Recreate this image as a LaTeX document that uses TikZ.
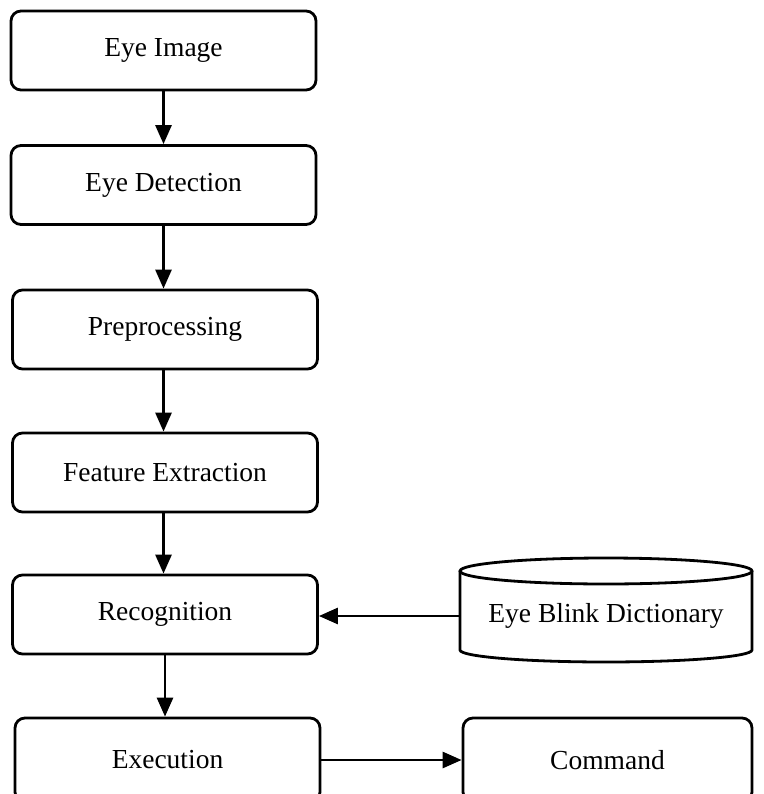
\documentclass[tikz,border=0pt]{standalone}
\usepackage{fontspec}
\setmainfont{Liberation Serif}
\usetikzlibrary{arrows.meta}
\begin{document}
\begin{tikzpicture}[x=1pt,y=-1pt,
  stepbox/.style={draw, line width=2.8pt, rounded corners=10pt,
    minimum width=305pt, minimum height=79pt, inner sep=0pt,
    font=\fontsize{27.5}{30}\selectfont},
  flow/.style={line width=2.8pt, -{Triangle[length=19pt,width=16pt]}},
  cyl/.style={line width=2.8pt}]
\useasboundingbox (0,0) rectangle (763,794);
\fill[white] (0,0) rectangle (763,794);

% main processing chain
\node[stepbox] (img)  at (163.5,50.5) {Eye Image};
\node[stepbox] (det)  at (163.5,185)  {Eye Detection};
\node[stepbox] (pre)  at (165,329.5)  {Preprocessing};
\node[stepbox] (feat) at (165,472.5)  {Feature Extraction};
\node[stepbox] (rec)  at (165,614.5)  {Recognition};
\node[stepbox, minimum height=84pt] (exe) at (167.5,760) {Execution};
\node[stepbox, minimum width=289pt, minimum height=84pt] (cmd) at (607.5,760) {Command};

% dictionary store (cylinder)
\node[inner sep=0pt, minimum width=292pt, minimum height=80pt,
      font=\fontsize{27.5}{30}\selectfont] (dict) at (606,616) {Eye Blink Dictionary};
\draw[cyl] (460,571) -- (460,650)
  arc[start angle=180, end angle=360, x radius=146, y radius=-12]
  -- (752,571);
\draw[cyl] (606,571) ellipse[x radius=146, y radius=13];

% connectors
\draw[flow] (img.south) -- (det.north);
\draw[flow] (det.south -| img.south) -- (pre.north -| img.south);
\draw[flow] (pre.south -| img.south) -- (feat.north -| img.south);
\draw[flow] (feat.south -| img.south) -- (rec.north -| img.south);
\draw[flow] (rec.south) -- (exe.north -| rec.south);
\draw[flow] (dict.west) -- (rec.east |- dict.west);
\draw[flow] (exe.east |- cmd.west) -- (cmd.west);
\end{tikzpicture}
\end{document}
